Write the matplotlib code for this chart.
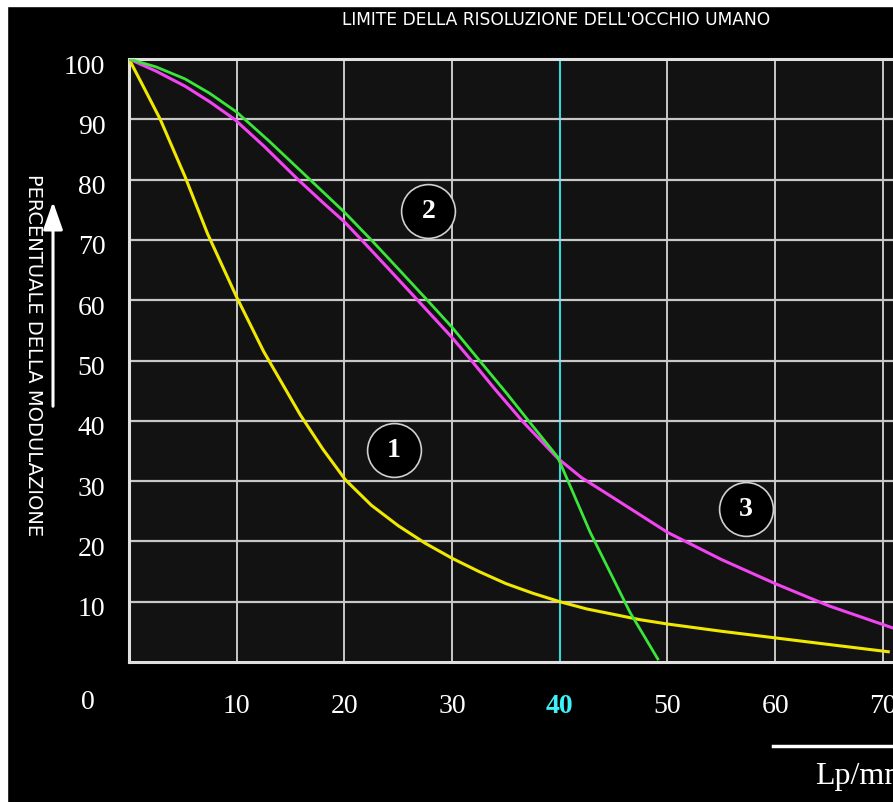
import numpy as np
import matplotlib
matplotlib.use('Agg')
import matplotlib.pyplot as plt
from matplotlib.patches import Rectangle, FancyArrowPatch
from matplotlib.transforms import ScaledTranslation

# curve 1 (yellow)
x1 = [0, 1.4, 2.9, 5.2, 7.3, 10, 12.5, 15.9, 18, 20.1, 22.5, 25, 27.5, 30, 32.5, 35, 37.5, 40,
      42.5, 45, 47.5, 50, 55, 60, 65, 70.5]
y1 = [100, 95.2, 90, 80.5, 71, 60.5, 51.5, 41, 35.3, 30.2, 26, 22.6, 19.7, 17.2, 15, 13, 11.4, 10,
      8.8, 7.9, 7, 6.3, 5.1, 4, 2.9, 1.7]
# curve 2 (green)
x2 = [0, 2.5, 5.2, 7.5, 10, 13, 16.8, 20, 22.6, 25, 27.7, 30, 32.4, 35, 37.1, 39.8, 42.8, 46.5, 49.1]
y2 = [100, 98.7, 96.7, 94.3, 91.2, 86.4, 80, 74.6, 69.8, 65.2, 60, 55.5, 50.3, 44.7, 40, 34, 21.6, 8.3, 0.5]
# curve 3 (magenta)
x3 = [0, 2.5, 5.2, 7.5, 9.8, 12.5, 15.7, 18, 20, 21.7, 24, 26.8, 30, 31.7, 34, 36.6, 39.8, 42, 45,
      50, 55, 60, 65, 71]
y3 = [100, 98, 95.5, 92.9, 90, 85.6, 80, 76.2, 73, 69.8, 65.4, 60, 53.8, 50.2, 45.2, 39.8, 33.8, 30.6, 27.2,
      21.5, 17, 13, 9.3, 5.6]

xticks = [10, 20, 30, 40, 50, 60, 70]
yticks = [10, 20, 30, 40, 50, 60, 70, 80, 90, 100]
labels = {'1': (24.6, 35.2), '2': (27.8, 74.8), '3': (57.3, 25.4)}

serif = ['Liberation Serif', 'DejaVu Serif']
sans = ['DejaVu Sans']

fig = plt.figure(figsize=(8.93, 8.03), dpi=100, facecolor='black')
# white border on left and top
fig.patches.append(Rectangle((0, 0), 7 / 893, 1, transform=fig.transFigure, color='white', zorder=0))
fig.patches.append(Rectangle((0, 1 - 7 / 803), 1, 7 / 803, transform=fig.transFigure, color='white', zorder=0))

ax = fig.add_axes([129 / 893, 140 / 803, 764 / 893, 603 / 803])
ax.set_facecolor('#121212')
ax.set_xlim(0, 70.94)
ax.set_ylim(0, 100)

grid_c = '#c8c8c8'
for v in xticks:
    if v == 40:
        ax.axvline(v, color='#35d5dc', lw=1.5, zorder=1)
    else:
        ax.axvline(v, color=grid_c, lw=1.4, zorder=1)
for v in yticks[:-1]:
    ax.axhline(v, color=grid_c, lw=1.6, zorder=1)

ax.plot(x1, y1, color='#f0e800', lw=2.2, zorder=3)
ax.plot(x3, y3, color='#f045f0', lw=2.2, zorder=3)
ax.plot(x2, y2, color='#3ae63a', lw=2.0, zorder=4)

for k, (cx, cy) in labels.items():
    ax.scatter([cx], [cy], s=1500, c='black', edgecolors='#d0d0d0', linewidths=1.2, zorder=5)
    ax.text(cx, cy, k, color='white', fontsize=20, fontweight='bold', family=serif,
            ha='center', va='center', zorder=6)

for s in ['left', 'top', 'bottom']:
    ax.spines[s].set_color('#e0e0e0')
    ax.spines[s].set_linewidth(2.2)
ax.spines['right'].set_visible(False)

ax.set_xticks(xticks)
ax.set_xticklabels([str(v) for v in xticks], family=serif, fontsize=20, color='white')
ax.set_yticks(yticks)
ax.set_yticklabels([str(v) for v in yticks], family=serif, fontsize=20, color='white')
ax.tick_params(axis='x', length=0, pad=22)
ax.tick_params(axis='y', length=0, pad=17)
shift = ScaledTranslation(0, -4 / 100, fig.dpi_scale_trans)
for t in ax.get_yticklabels():
    t.set_transform(t.get_transform() + shift)
for t in ax.get_xticklabels():
    if t.get_text() == '40':
        t.set_color('#40f0f8')
        t.set_fontweight('bold')

fig.text(88 / 893, 1 - 703 / 803, '0', color='white', family=serif, fontsize=20, ha='center', va='center')

fig.text(556 / 893, 1 - 20 / 803, "LIMITE DELLA RISOLUZIONE DELL'OCCHIO UMANO",
         color='white', family=sans, fontsize=12.3, ha='center', va='center')
fig.text(33 / 893, 1 - 355 / 803, 'PERCENTUALE DELLA MODULAZIONE', color='white',
         family=sans, fontsize=14, rotation=-90, ha='center', va='center')
fig.add_artist(FancyArrowPatch((53 / 893, 1 - 410 / 803), (53 / 893, 1 - 200 / 803),
               transform=fig.transFigure, arrowstyle='-|>,head_length=17,head_width=6',
               mutation_scale=1, color='white', lw=2.2))

fig.add_artist(plt.Line2D([773 / 893, 1], [1 - 747 / 803, 1 - 747 / 803], transform=fig.transFigure,
                          color='white', lw=2.5))
fig.text(815 / 893, 1 - 777 / 803, 'Lp/mm', color='white', family=serif, fontsize=23, ha='left', va='center')

fig.savefig('out.png', dpi=100, facecolor='black')
